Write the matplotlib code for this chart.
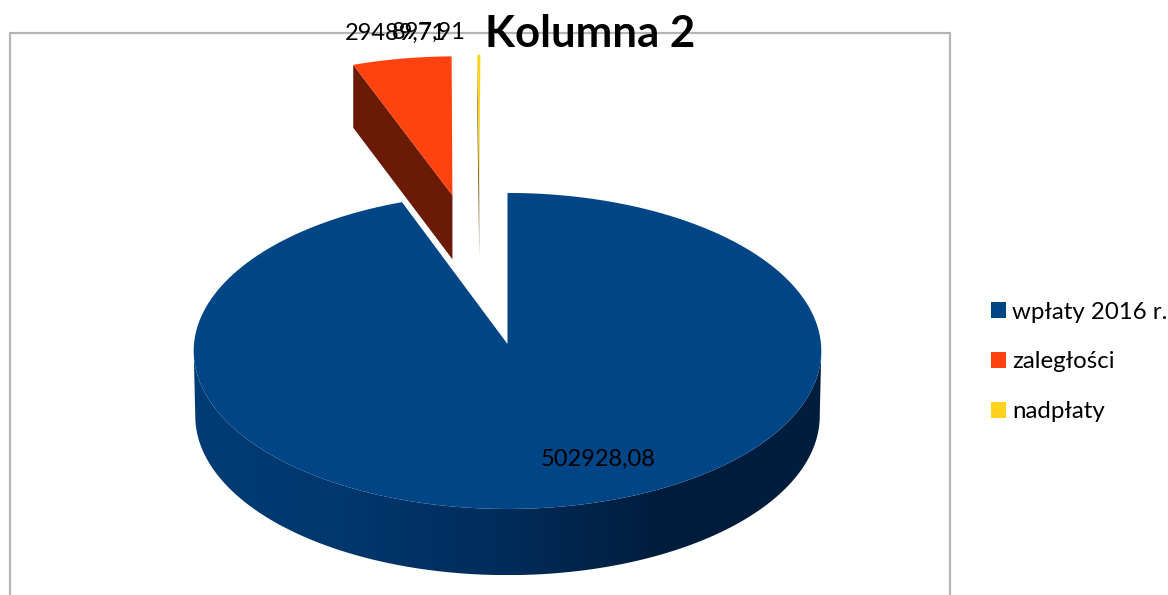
import numpy as np
import matplotlib
import matplotlib.pyplot as plt
from matplotlib.colors import LinearSegmentedColormap
from matplotlib.patches import Patch, Polygon

matplotlib.use('Agg')

plt.rcParams['font.family'] = ['Lato', 'DejaVu Sans']

title = "Kolumna 2"
categories = ["wpłaty 2016 r.", "zaległości", "nadpłaty"]
values = [502928.08, 29489.71, 897.91]
colors = ['#004586', '#FF420E', '#FFD320']
wall_colors = [None, '#6A1A05', '#6E5A10']
explode = [0.0, 1.0, 1.0]
# kierunek wysunięcia: żółty plasterek w oryginale nie idzie po swojej osi
explode_dir = [None, None, -5.4]
label_pos = [(598, 459), (395, 33), (429, 32)]

# geometria rzutu (piksele obrazka)
CX, CY = 507.5, 344
RX, RY = 313.5, 157.7
K = 0.044
DEPTH = 65

blue_wall = LinearSegmentedColormap.from_list(
    'wall', ['#003c74', '#00376c', '#002c5a', '#001c3c', '#001e3e'])


def project(u, v, z=0.0):
    w = 1 + K * v
    return CX + RX * u / w, CY - RY * v / w + DEPTH * z / (1 + 0.4 * K * v)


def arc(a0, a1, n=200):
    t = np.radians(np.linspace(a0, a1, n))
    return np.sin(t), np.cos(t)


def label_text(v):
    return f"{v:.2f}".replace('.', ',')


fig = plt.figure(figsize=(11.68, 5.95), dpi=100)
ax = fig.add_axes([0, 0, 1, 1])
ax.set_xlim(0, 1168)
ax.set_ylim(595, 0)
ax.axis('off')

# ramka wykresu, dół ucięty na krawędzi obrazka
ax.plot([10, 10, 950, 950], [600, 33, 33, 600], color='#b4b4b4', lw=1.6, zorder=1)

# kąty liczone zgodnie z zegarem od góry
total = sum(values)
sweeps = [v / total * 360 for v in values]
starts = np.cumsum([0] + sweeps[:-1])

# boczna ściana dużego plasterka: gradient przycięty do obrysu
u_w, v_w = arc(92.5, 267.5, 300)
xt, yt = project(u_w, v_w)
xb, yb = project(u_w * 0.995, v_w, 1.0)
outline = np.column_stack([np.r_[xt, xb[::-1]], np.r_[yt, yb[::-1]]])
wall_patch = Polygon(outline, closed=True, fc='none', ec='none', transform=ax.transData)
ax.add_patch(wall_patch)
grad = np.linspace(0, 1, 256).reshape(1, -1)
im = ax.imshow(grad, cmap=blue_wall, extent=[outline[:, 0].min(), outline[:, 0].max(),
                                              outline[:, 1].max(), outline[:, 1].min()],
               aspect='auto', zorder=2)
im.set_clip_path(wall_patch)
ax.set_xlim(0, 1168)
ax.set_ylim(595, 0)

for i, (s, sw) in enumerate(zip(starts, sweeps)):
    if sw > 300:
        a0, a1 = s, s + sw
    else:
        a0, a1 = s - 360, s + sw - 360
    mid = explode_dir[i] if explode_dir[i] is not None else (a0 + a1) / 2
    du = explode[i] * np.sin(np.radians(mid))
    dv = explode[i] * np.cos(np.radians(mid))
    u, v = arc(a0, a1)
    u = np.r_[du, u + du]
    v = np.r_[dv, v + dv]
    if wall_colors[i]:
        # ściana cięcia po lewej stronie plasterka
        eu, ev = np.array(u[:2]), np.array(v[:2])
        x0, y0 = project(eu, ev)
        x1, y1 = project(eu, ev, 1.0)
        wall = np.column_stack([np.r_[x0, x1[::-1]], np.r_[y0, y1[::-1]]])
        ax.add_patch(Polygon(wall, closed=True, fc=wall_colors[i], ec='none', zorder=3 + i))
    x, y = project(u, v)
    ax.add_patch(Polygon(np.column_stack([x, y]), closed=True, fc=colors[i], ec='none', zorder=3 + i))

for v, (lx, ly) in zip(values, label_pos):
    ax.text(lx, ly, label_text(v), fontsize=17, ha='center', va='center', color='black', zorder=10)

ax.text(590, 34, title, fontsize=31.5, fontweight='bold', ha='center', va='center', color='black', zorder=10)

handles = [Patch(fc=c, ec='none') for c in colors]
ax.legend(handles, categories, loc='center left', bbox_to_anchor=(991 / 1168, 1 - 362 / 595),
          frameon=False, fontsize=17.3, handlelength=0.62, handleheight=0.62,
          handletextpad=0.25, labelspacing=1.2, borderpad=0, borderaxespad=0.0)

fig.savefig('out.png', dpi=100)
plt.close(fig)
